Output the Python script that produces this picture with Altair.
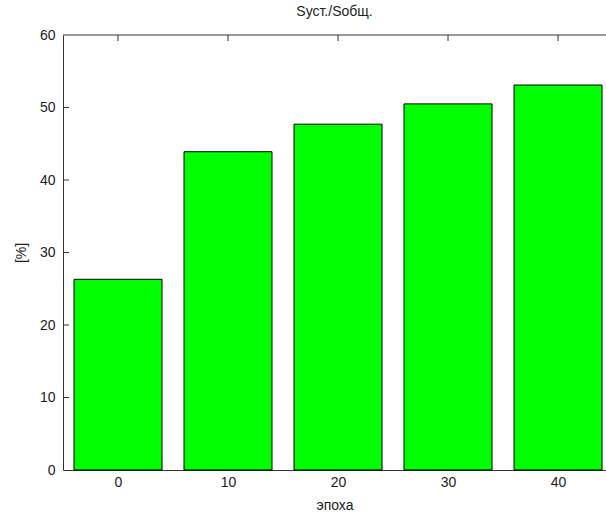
import altair as alt
import pandas as pd

# Share of "Sуст." in "Sобщ." by epoch, percent
epochs = [0, 10, 20, 30, 40]
shares = [26.3, 43.9, 47.7, 50.5, 53.1]

y_tick_values = [0, 10, 20, 30, 40, 50, 60]
inner_y_ticks = [10, 20, 30, 40, 50]
y_top = 60

FONT = "Liberation Sans"
INK = "#222222"
LINE = "#333333"

bars_df = pd.DataFrame({"epoch": epochs, "share": shares})
top_ticks_df = pd.DataFrame({"tick": epochs})
left_ticks_df = pd.DataFrame({"tick": inner_y_ticks})
top_edge_df = pd.DataFrame({"edge": [y_top]})

x_scale = alt.Scale(domain=[-5, 44.36], nice=False, zero=False)
y_scale = alt.Scale(domain=[0, y_top], nice=False, zero=True)

x_axis = alt.Axis(
    values=epochs,
    title="эпоха",
    grid=False,
    ticks=False,
    labelPadding=5,
    titlePadding=9,
    format="d",
)
y_axis = alt.Axis(
    values=y_tick_values,
    title="[%]",
    grid=False,
    ticks=False,
    labelPadding=8,
    titlePadding=11,
    format="d",
)

bars = (
    alt.Chart(bars_df)
    .transform_calculate(left="datum.epoch - 4", right="datum.epoch + 4")
    .mark_bar(fill="#00ff00", stroke="#000000", strokeWidth=1)
    .encode(
        x=alt.X("left:Q", scale=x_scale, axis=x_axis),
        x2="right:Q",
        y=alt.Y("share:Q", scale=y_scale, axis=y_axis),
        y2=alt.datum(0),
    )
)

# upper frame line of the axes box
top_line = (
    alt.Chart(top_edge_df)
    .mark_rule(color=LINE, strokeWidth=1)
    .encode(
        y=alt.Y("edge:Q", scale=y_scale, axis=y_axis),
        x=alt.value(0),
        x2=alt.value("width"),
    )
)

# inward tick marks along the top edge
top_ticks = (
    alt.Chart(top_ticks_df)
    .mark_rule(color=LINE, strokeWidth=1)
    .encode(
        x=alt.X("tick:Q", scale=x_scale, axis=x_axis),
        y=alt.value(0),
        y2=alt.value(6),
    )
)

# inward tick marks along the left edge
left_ticks = (
    alt.Chart(left_ticks_df)
    .mark_rule(color=LINE, strokeWidth=1)
    .encode(
        y=alt.Y("tick:Q", scale=y_scale, axis=y_axis),
        x=alt.value(0),
        x2=alt.value(6),
    )
)

chart = (
    alt.layer(bars, top_line, top_ticks, left_ticks)
    .properties(
        width=543,
        height=435,
        autosize=alt.AutoSizeParams(type="none"),
        padding={"left": 63, "top": 35, "right": 0, "bottom": 45},
        background="white",
        title=alt.Title(
            "Sуст./Sобщ.",
            font=FONT,
            fontSize=14,
            fontWeight="normal",
            color=INK,
            baseline="bottom",
            offset=11,
            dy=16,
        ),
    )
    .configure_view(stroke=None)
    .configure_axis(
        domainColor=LINE,
        domainWidth=1,
        labelFont=FONT,
        labelFontSize=14,
        labelColor=INK,
        titleFont=FONT,
        titleFontSize=14,
        titleFontWeight="normal",
        titleColor=INK,
    )
)

chart.save("out.html", embed_options={"renderer": "svg", "actions": False})
